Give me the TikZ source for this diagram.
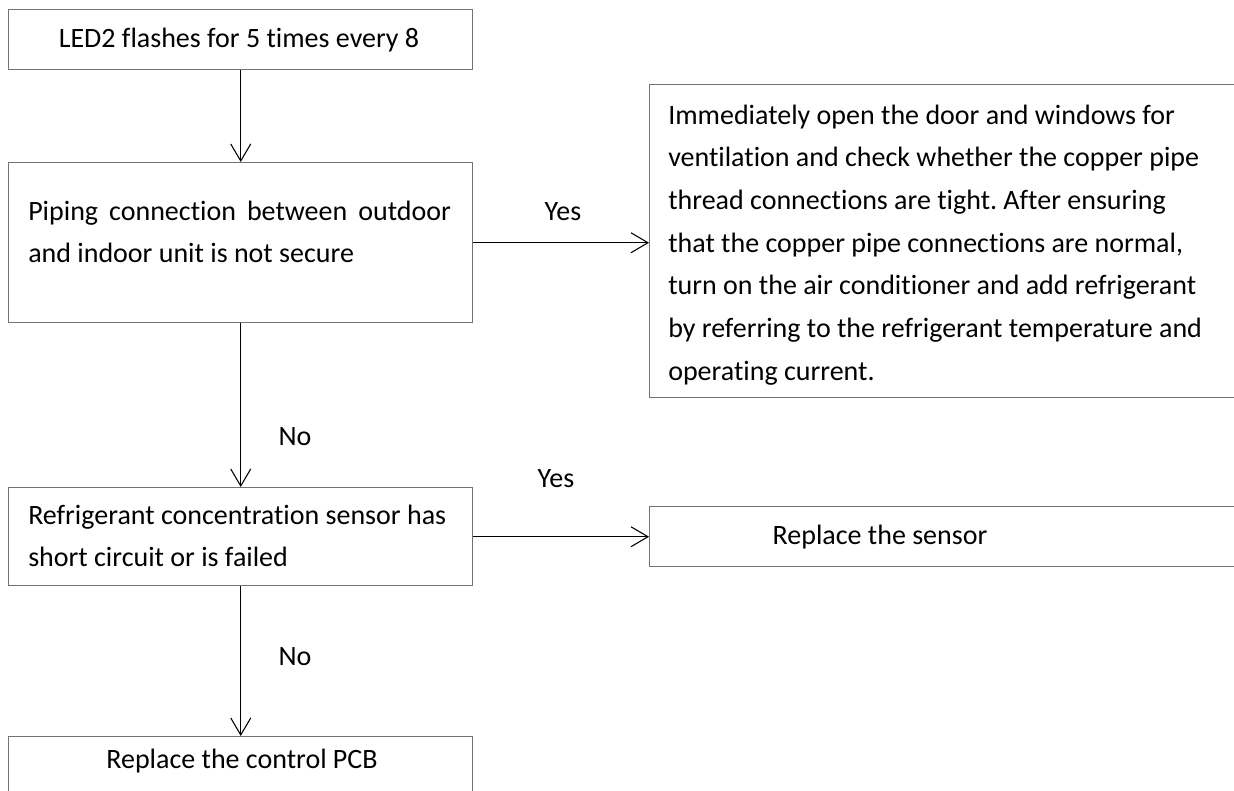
\documentclass[tikz,border=0pt]{standalone}
\usepackage{fontspec}
\setmainfont{Carlito}[Ligatures={NoCommon}]
\usetikzlibrary{arrows.meta}
\frenchspacing
\begin{document}
\begin{tikzpicture}[x=0.75pt,y=-0.75pt,
  box/.style={draw=black!55, line width=1.1pt, inner sep=0pt, anchor=north west},
  txt/.style={inner sep=0pt, font=\fontsize{21}{32}\selectfont},
  arr/.style={draw=black, line width=0.8pt, -{Straight Barb[length=12.75pt,width=15pt,line width=0.8pt]}},
]
\useasboundingbox (0,0) rectangle (1234,791);
\clip (0,0) rectangle (1234,791);
\fill[white] (0,0) rectangle (1234,791);
% boxes
\node[box, minimum width=348pt, minimum height=45pt] (b1) at (8,9) {};
\node[box, minimum width=348pt, minimum height=120pt] (b2) at (8,162) {};
\node[box, minimum width=525pt, minimum height=234.75pt] (b3) at (649,84) {};
\node[box, minimum width=348pt, minimum height=73.5pt] (b4) at (8,487) {};
\node[box, minimum width=525pt, minimum height=45pt] (b5) at (649,506) {};
\node[box, minimum width=348pt, minimum height=75pt] (b6) at (8,736) {};
% texts
\node[txt] (t1) at (239,40) {LED2 flashes for 5 times every 8};
\node[txt, anchor=west, align=left] (t2) at (28,232) {\makebox[317pt][s]{Piping connection between outdoor}\\and indoor unit is not secure};
\node[txt, anchor=west, align=left] (t3) at (668,245) {Immediately open the door and windows for\\ventilation and check whether the copper pipe\\thread connections are tight. After ensuring\\that the copper pipe connections are normal,\\turn on the air conditioner and add refrigerant\\by referring to the refrigerant temperature and\\operating current.};
\node[txt, anchor=west, align=left] (t4) at (28,536) {Refrigerant concentration sensor has\\short circuit or is failed};
\node[txt] (t5) at (880,537) {Replace the sensor};
\node[txt] (t6) at (242,761) {Replace the control PCB};
% labels
\node[txt] (y1) at (563,212) {Yes};
\node[txt] (n1) at (295,437) {No};
\node[txt] (y2) at (556,479) {Yes};
\node[txt] (n2) at (295,657) {No};
% connectors
\draw[arr] (b1.south) -- (b2.north);
\draw[arr] (b2.east) -- (b2.east -| b3.west);
\draw[arr] (b2.south) -- (b4.north);
\draw[arr] (b4.east) -- (b4.east -| b5.west);
\draw[arr] (b4.south) -- (b6.north);
\end{tikzpicture}
\end{document}
